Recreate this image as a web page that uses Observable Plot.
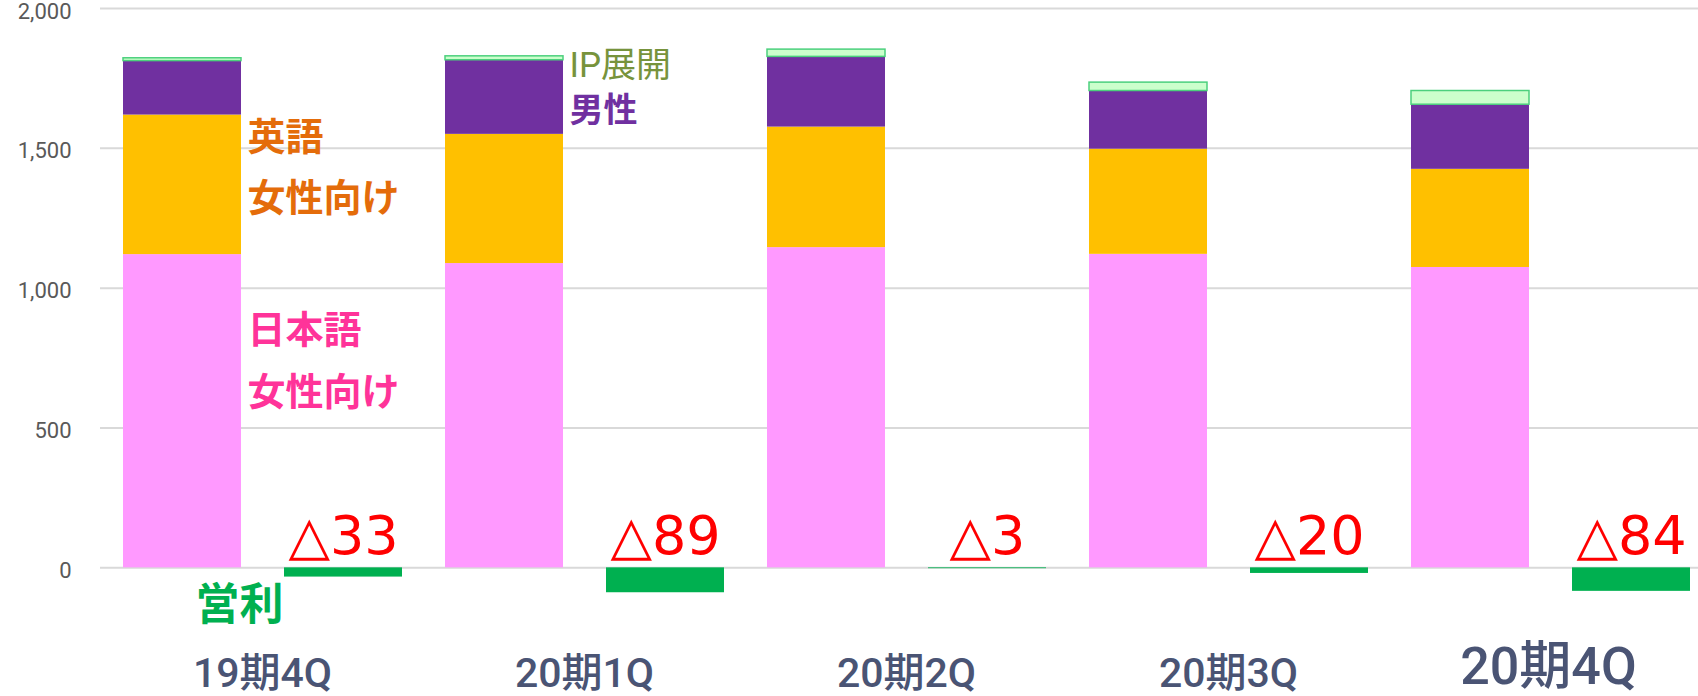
<!DOCTYPE html>
<html>
<head>
<meta charset="utf-8">
<script src="https://cdn.jsdelivr.net/npm/d3@7"></script>
<script src="https://cdn.jsdelivr.net/npm/@observablehq/plot@0.6"></script>
<style>
  html, body { margin: 0; padding: 0; background: #fff; }
  #chart svg { display: block; }
</style>
</head>
<body>
<div id="chart"></div>
<script>
// ---- data ----
const quarters = ["19期4Q", "20期1Q", "20期2Q", "20期3Q", "20期4Q"];
const jpWomen = [1120, 1088, 1145, 1121, 1074];   // 日本語 女性向け
const enWomen = [499, 462, 431, 376, 351];        // 英語 女性向け
const men     = [193, 265, 251, 208, 231];        // 男性
const ipBiz   = [10, 14, 26, 30, 49];             // IP展開
const profit  = [-33, -89, -3, -20, -84];         // 営利
const profitLabels = ["△33", "△89", "△3", "△20", "△84"];
const yTicks = [0, 500, 1000, 1500, 2000];

// ---- derived tables ----
const salesKey = q => q + "|売上";
const profitKey = q => q + "|営利";
const xDomain = quarters.flatMap(q => [salesKey(q), profitKey(q)]);

const stacks = quarters.map((q, i) => {
  const a = jpWomen[i], b = a + enWomen[i], c = b + men[i], d = c + ipBiz[i];
  return {q, key: salesKey(q), jp0: 0, jp1: a, en1: b, men1: c, ip1: d, i};
});
const profits = quarters.map((q, i) => ({q, key: profitKey(q), v: profit[i], label: profitLabels[i]}));

const dejavu = "'DejaVu Sans', 'Noto Sans CJK JP', sans-serif";
const roboto = "Roboto, 'Noto Sans CJK JP', sans-serif";
const cjk = "'Noto Sans CJK JP', sans-serif";

const first = stacks[0], second = stacks[1];

const chart = Plot.plot({
  width: 1698,
  height: 696,
  marginLeft: 100,
  marginRight: 0,
  marginTop: 8,
  marginBottom: 0,
  style: {fontFamily: roboto, background: "#fff"},
  x: {type: "band", domain: xDomain, paddingInner: 0.268, paddingOuter: 0.0905, align: 0.753, axis: null},
  y: {domain: [-460, 2000], axis: null},
  marks: [
    Plot.ruleY(yTicks, {stroke: "#d9d9d9", strokeWidth: 2}),
    Plot.axisY(yTicks, {tickSize: 0, tickPadding: 29, tickFormat: d3.format(","), fontSize: 22, fill: "#595959", fontFamily: roboto, dy: 3}),
    // stacked sales bars
    Plot.barY(stacks, {x: "key", y1: "jp0", y2: "jp1", fill: "#ff99ff"}),
    Plot.barY(stacks, {x: "key", y1: "jp1", y2: "en1", fill: "#ffc000"}),
    Plot.barY(stacks, {x: "key", y1: "en1", y2: "men1", fill: "#7030a0"}),
    Plot.barY(stacks, {x: "key", y1: "men1", y2: "ip1", fill: "#ccffcc", stroke: "#4cd07d", strokeWidth: 1.5}),
    // operating profit bars
    Plot.barY(profits, {x: "key", y1: 0, y2: "v", fill: "#00b050"}),
    Plot.text(profits, {x: "key", y: 0, text: "label", dy: -14, lineAnchor: "bottom", fill: "#ff0000", fontSize: 54, fontFamily: dejavu}),
    // category labels
    Plot.text(stacks.slice(0, 4), {x: "key", text: "q", frameAnchor: "bottom", dx: 80, dy: -10, lineAnchor: "bottom",
      fontSize: 41, fontWeight: 500, fill: "#4a5474", fontFamily: roboto}),
    Plot.text(stacks.slice(4), {x: "key", text: "q", frameAnchor: "bottom", dx: 78, dy: -13, lineAnchor: "bottom",
      fontSize: 52, fontWeight: 500, fill: "#4a5474", fontFamily: roboto}),
    // series annotations
    Plot.text([first], {x: "key", y: d => (d.jp1 + d.en1) / 2, text: () => "英語\n女性向け", dx: 65, dy: -24,
      textAnchor: "start", lineHeight: 1.62, fill: "#e46c0a", fontSize: 38, fontWeight: "bold", fontFamily: cjk}),
    Plot.text([first], {x: "key", y: d => d.jp1 / 2, text: () => "日本語\n女性向け", dx: 65, dy: -57,
      textAnchor: "start", lineHeight: 1.62, fill: "#ff3399", fontSize: 38, fontWeight: "bold", fontFamily: cjk}),
    Plot.text([second], {x: "key", y: "ip1", text: () => "IP展開", dx: 65, dy: -4, lineAnchor: "top",
      textAnchor: "start", fill: "#77933c", fontSize: 35, fontFamily: roboto}),
    Plot.text([second], {x: "key", y: "ip1", text: () => "男性", dx: 65, dy: 42, lineAnchor: "top",
      textAnchor: "start", fill: "#7030a0", fontSize: 34, fontWeight: "bold", fontFamily: cjk}),
    Plot.text([profits[0]], {x: () => first.key, y: "v", text: () => "営利", dx: 57, dy: 29,
      fill: "#00b050", fontSize: 44, fontWeight: "bold", fontFamily: cjk})
  ]
});
document.getElementById("chart").appendChild(chart);
</script>
</body>
</html>
